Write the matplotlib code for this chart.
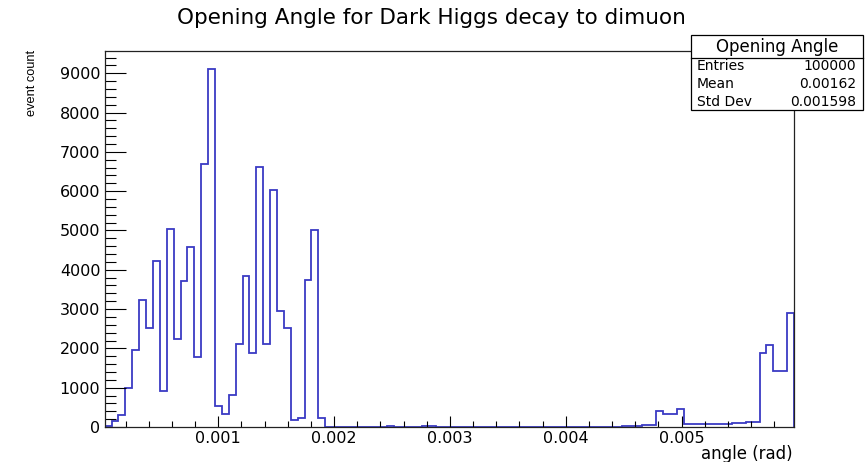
import numpy as np
import matplotlib
matplotlib.use("Agg")
import matplotlib.pyplot as plt
from matplotlib.ticker import MultipleLocator, FormatStrFormatter
from matplotlib.patches import Rectangle
from matplotlib.lines import Line2D

plt.rcParams['font.family'] = ['DejaVu Sans']

# ---- data ----
x_min = 0.00002
x_max = 0.00597
n_bins = 100
counts = [
    35, 150, 300, 1000, 1950, 3230, 2530, 4220, 920, 5040,
    2250, 3720, 4590, 1770, 6680, 9110, 535, 330, 810, 2100,
    3850, 1870, 6620, 2100, 6020, 2950, 2530, 190, 230, 3740,
    5020, 220, 0, 0, 0, 0, 0, 0, 0, 0,
    0, 25, 0, 0, 0, 0, 25, 25, 10, 8,
    8, 8, 8, 8, 8, 8, 8, 8, 8, 8,
    8, 8, 8, 8, 8, 8, 8, 8, 8, 8,
    8, 8, 8, 8, 8, 35, 35, 35, 40, 40,
    410, 340, 340, 460, 70, 70, 70, 85, 85, 85,
    85, 100, 100, 127, 127, 1880, 2090, 1430, 1430, 2890,
]
title = "Opening Angle for Dark Higgs decay to dimuon"
x_title = "angle (rad)"
y_title = "event count"
stats_name = "Opening Angle"
stats_labels = ["Entries", "Mean", "Std Dev"]
stats_values = ["100000", "0.00162", "0.001598"]

W, H = 867, 462
fig = plt.figure(figsize=(W / 100, H / 100), dpi=100)

ax_l, ax_r, ax_t, ax_b = 104.7, 794.0, 51.0, 427.0
ax = fig.add_axes([ax_l / W, 1 - ax_b / H, (ax_r - ax_l) / W, (ax_b - ax_t) / H])

edges = np.linspace(x_min, x_max, n_bins + 1)
ax.stairs(counts, edges, color='#3a3ac4', linewidth=1.3, baseline=0)

ax.set_xlim(x_min, x_max)
ax.set_ylim(0, max(counts) * 1.05)

ax.xaxis.set_major_locator(MultipleLocator(0.001))
ax.xaxis.set_minor_locator(MultipleLocator(0.0002))
ax.xaxis.set_major_formatter(FormatStrFormatter('%g'))
ax.yaxis.set_major_locator(MultipleLocator(1000))
ax.yaxis.set_minor_locator(MultipleLocator(200))
ax.yaxis.set_major_formatter(FormatStrFormatter('%d'))

ax.tick_params(axis='x', which='major', direction='in', length=8, width=0.8,
               labelsize=11.5, pad=3.0, top=False)
ax.tick_params(axis='x', which='minor', direction='in', length=4, width=0.8, top=False)
ax.tick_params(axis='y', which='major', direction='in', length=15, width=0.8,
               labelsize=11.5, pad=3.2, right=False)
ax.tick_params(axis='y', which='minor', direction='in', length=8, width=0.8, right=False)
for s in ax.spines.values():
    s.set_linewidth(0.9)
    s.set_color('#222222')

fig.text(793 / W, 1 - 454 / H, x_title, ha='right', va='center', fontsize=12)
fig.text(32 / W, 1 - 50 / H, y_title, ha='center', va='top', rotation=90,
         fontsize=9.2, family='Liberation Sans')
fig.text(0.498, 1 - 18 / H, title, ha='center', va='center', fontsize=15.5)

# stats box
bl, br, bt, bb = 691.0, 862.7, 35.0, 110.0
sep = 58.3
fig.patches.append(Rectangle((bl / W, 1 - bb / H), (br - bl) / W, (bb - bt) / H,
                             transform=fig.transFigure, facecolor='white',
                             edgecolor='black', linewidth=0.9, zorder=5))
fig.lines.append(Line2D([bl / W, br / W], [1 - sep / H, 1 - sep / H],
                        transform=fig.transFigure, color='black', linewidth=0.9, zorder=6))
fig.text((bl + br) / 2 / W, 1 - 46.5 / H, stats_name, ha='center', va='center',
         fontsize=12, zorder=7)
row_y = [65.8, 84.0, 102.2]
for lab, val, yy in zip(stats_labels, stats_values, row_y):
    fig.text(697 / W, 1 - yy / H, lab, ha='left', va='center', fontsize=10, zorder=7)
    fig.text(856 / W, 1 - yy / H, val, ha='right', va='center', fontsize=10, zorder=7)

fig.savefig('out.png', dpi=100)
